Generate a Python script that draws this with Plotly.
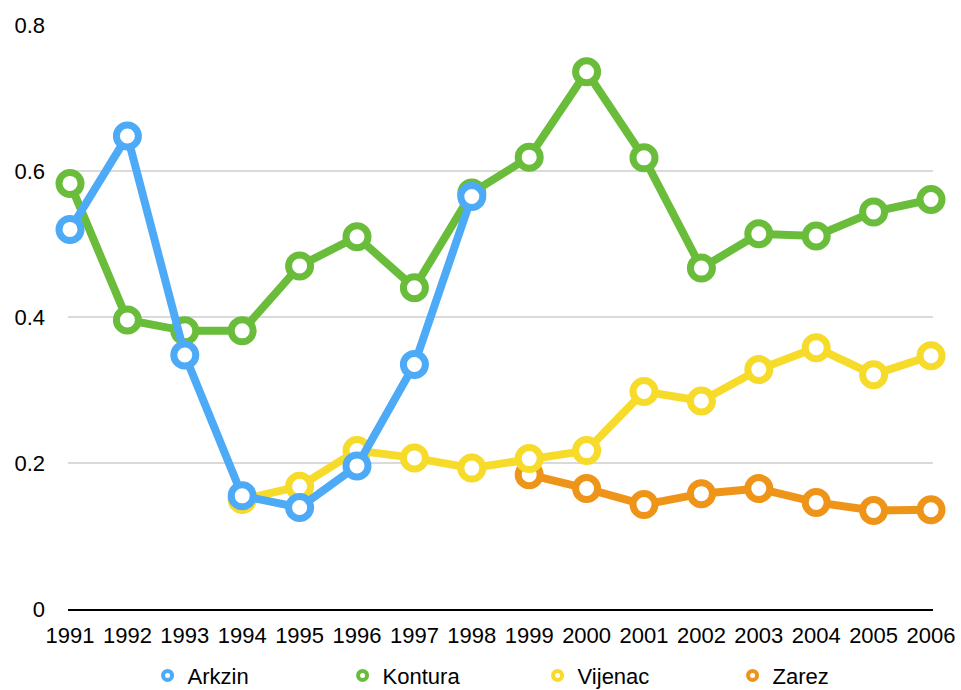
import plotly.graph_objects as go

years = list(range(1991, 2007))
arkzin_years = list(range(1991, 1999))
arkzin = [0.520, 0.648, 0.348, 0.155, 0.139, 0.196, 0.335, 0.565]
kontura = [0.583, 0.396, 0.381, 0.381, 0.470, 0.510, 0.440, 0.570,
           0.619, 0.736, 0.618, 0.467, 0.514, 0.511, 0.544, 0.561]
vijenac_years = list(range(1994, 2007))
vijenac = [0.150, 0.168, 0.217, 0.207, 0.193, 0.206, 0.217, 0.298,
           0.285, 0.328, 0.358, 0.321, 0.347]
zarez_years = list(range(1999, 2007))
zarez = [0.184, 0.165, 0.143, 0.158, 0.165, 0.146, 0.135, 0.136]

names = ["Arkzin", "Kontura", "Vijenac", "Zarez"]
colors = {"Arkzin": "#4DAAF6", "Kontura": "#6ABC3B",
          "Vijenac": "#F6DB2A", "Zarez": "#EE9419"}
series = {"Arkzin": (arkzin_years, arkzin), "Kontura": (years, kontura),
          "Vijenac": (vijenac_years, vijenac), "Zarez": (zarez_years, zarez)}

fig = go.Figure()
# draw order: Zarez bottom, Arkzin top
for n in ["Zarez", "Vijenac", "Kontura", "Arkzin"]:
    xs, ys = series[n]
    fig.add_trace(go.Scatter(
        x=xs, y=ys, mode="lines+markers", name=n, showlegend=False,
        line=dict(color=colors[n], width=8),
        marker=dict(symbol="circle", size=22, color="white",
                    line=dict(color=colors[n], width=7)),
        cliponaxis=False))
# legend entries
for n in names:
    fig.add_trace(go.Scatter(
        x=[None], y=[None], mode="markers", name=n,
        marker=dict(symbol="circle", size=9, color="white",
                    line=dict(color=colors[n], width=4))))

fig.update_layout(
    width=961, height=690,
    margin=dict(l=68, r=28, t=25, b=81, autoexpand=False),
    paper_bgcolor="white", plot_bgcolor="white",
    font=dict(family="Liberation Sans, Arial, sans-serif", size=22, color="black"),
    showlegend=True,
    legend=dict(orientation="h", x=0.092, xanchor="left", y=-0.114, yanchor="middle",
                entrywidth=150, entrywidthmode="pixels", itemsizing="trace",
                font=dict(size=22)),
)
fig.update_xaxes(range=[1991 - 2 / 57.4, 2006 + 2 / 57.4], tickmode="array",
                 tickvals=years, ticktext=[str(y) for y in years],
                 showgrid=False, zeroline=False, showline=True,
                 linecolor="black", linewidth=2, ticks="", automargin=False,
                 tickfont=dict(size=22), ticklabelstandoff=6)
fig.update_yaxes(range=[0, 0.8], tickmode="array",
                 tickvals=[0, 0.2, 0.4, 0.6, 0.8],
                 ticktext=["0", "0.2", "0.4", "0.6", "0.8"],
                 showgrid=True, gridcolor="#DADADA", gridwidth=2,
                 zeroline=False, showline=False, ticks="", automargin=False,
                 tickfont=dict(size=22), ticklabelstandoff=22)

fig.write_html("out.html", config={"displayModeBar": False},
               post_script="document.body.style.margin='0';document.body.style.overflow='hidden';")
